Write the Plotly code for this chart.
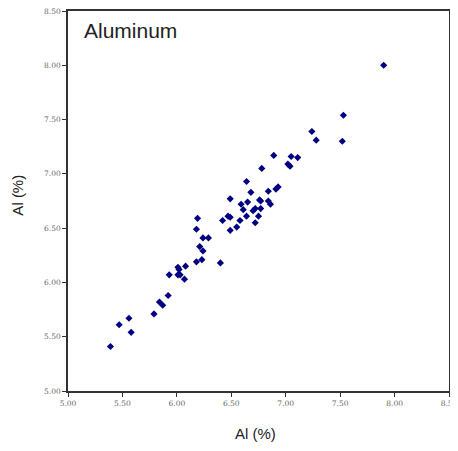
import plotly.graph_objects as go

# Al (%) by method X (horizontal) vs Al (%) by method Y (vertical)
al_x = [5.39, 5.47, 5.56, 5.58, 5.79, 5.84, 5.87, 5.92, 5.93, 6.01,
        6.02, 6.01, 6.03, 6.08, 6.07, 6.18, 6.23, 6.21, 6.24, 6.18,
        6.19, 6.24, 6.29, 6.40, 6.42, 6.47, 6.49, 6.49, 6.55, 6.58,
        6.59, 6.61, 6.64, 6.65, 6.49, 6.70, 6.72, 6.72, 6.75, 6.77,
        6.76, 6.77, 6.84, 6.86, 6.64, 6.68, 6.84, 6.91, 6.93, 6.78,
        7.02, 7.04, 6.89, 7.05, 7.11, 7.24, 7.28, 7.52, 7.53, 7.90]
al_y = [5.41, 5.61, 5.67, 5.54, 5.71, 5.82, 5.79, 5.88, 6.07, 6.14,
        6.12, 6.07, 6.07, 6.15, 6.03, 6.19, 6.21, 6.33, 6.29, 6.49,
        6.59, 6.41, 6.41, 6.18, 6.57, 6.61, 6.60, 6.48, 6.51, 6.57,
        6.72, 6.67, 6.61, 6.74, 6.77, 6.66, 6.68, 6.55, 6.61, 6.68,
        6.76, 6.75, 6.75, 6.72, 6.93, 6.83, 6.84, 6.86, 6.88, 7.05,
        7.09, 7.07, 7.17, 7.16, 7.15, 7.39, 7.31, 7.30, 7.54, 8.00]

tick_vals = [5.0, 5.5, 6.0, 6.5, 7.0, 7.5, 8.0, 8.5]
tick_text = ["5.00", "5.50", "6.00", "6.50", "7.00", "7.50", "8.00", "8.50"]

panel_label = "Aluminum"
axis_label = "Al (%)"

fig = go.Figure()
fig.add_trace(go.Scatter(
    x=al_x, y=al_y, mode="markers",
    marker=dict(symbol="diamond", size=5.5, color="#000080",
                line=dict(width=0)),
    showlegend=False,
))

axis_common = dict(
    range=[5.0, 8.5], tickvals=tick_vals, ticktext=tick_text,
    showgrid=False, zeroline=False, automargin=False,
    showline=True, linecolor="#333333", linewidth=1.5, mirror=True,
    ticks="outside", ticklen=4, tickwidth=1, tickcolor="#333333",
    tickfont=dict(family="DejaVu Serif", size=7.5, color="#666666"),
    ticklabeloverflow="allow",
)

title_font = dict(family="Liberation Sans", size=15, color="#222222")

fig.update_layout(
    width=458, height=451,
    margin=dict(l=60, r=17, t=3, b=68),
    paper_bgcolor="white", plot_bgcolor="white",
    xaxis=dict(**axis_common),
    yaxis=dict(**axis_common),
    annotations=[
        dict(text=panel_label, xref="paper", yref="paper", x=0.036, y=0.95,
             xanchor="left", yanchor="middle", showarrow=False,
             font=dict(family="Liberation Sans", size=21, color="#222222")),
        dict(text=axis_label, xref="paper", yref="paper", x=0.493, y=-0.113,
             xanchor="center", yanchor="middle", showarrow=False, font=title_font),
        dict(text=axis_label, xref="paper", yref="paper", x=-0.132, y=0.516,
             xanchor="center", yanchor="middle", showarrow=False, textangle=-90,
             font=title_font),
    ],
)

fig.write_html("out.html")
